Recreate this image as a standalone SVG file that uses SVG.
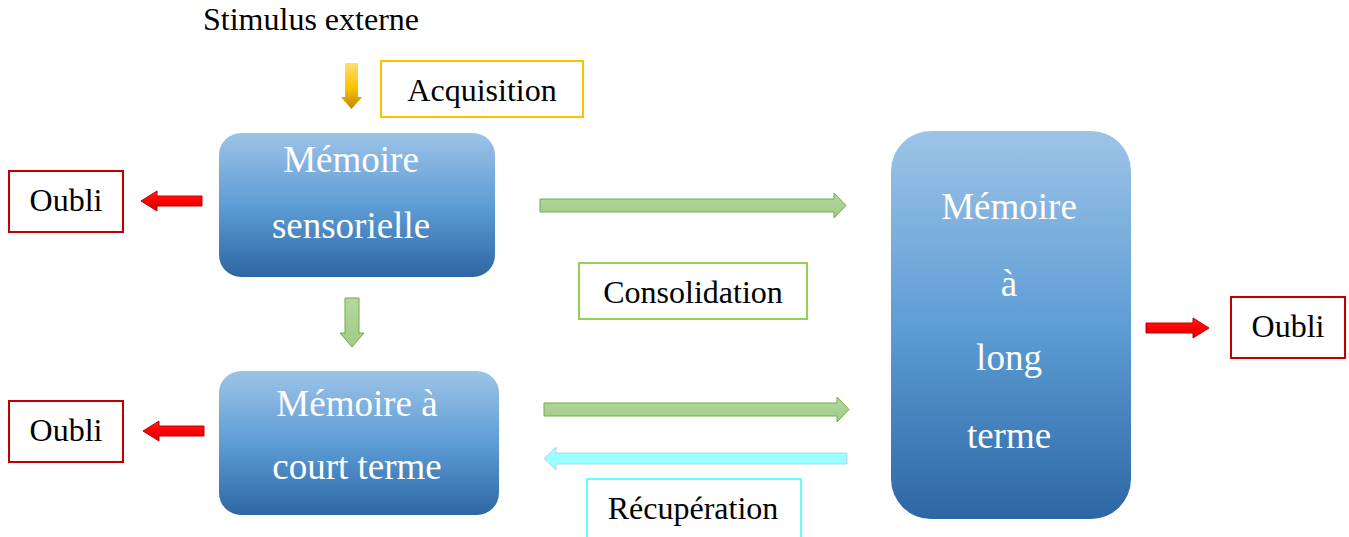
<svg xmlns="http://www.w3.org/2000/svg" width="1349" height="537" viewBox="0 0 1349 537">
<defs>
<linearGradient id="blue" x1="0" y1="0" x2="0" y2="1">
<stop offset="0" stop-color="#9DC3E6"/>
<stop offset="0.5" stop-color="#5E9DD6"/>
<stop offset="1" stop-color="#2D67A3"/>
</linearGradient>
<linearGradient id="gold" x1="0" y1="0" x2="0" y2="1">
<stop offset="0" stop-color="#FFE06B"/>
<stop offset="0.55" stop-color="#FFC000"/>
<stop offset="1" stop-color="#B88A00"/>
</linearGradient>
<linearGradient id="red" x1="0" y1="0" x2="0" y2="1">
<stop offset="0" stop-color="#FF2020"/>
<stop offset="0.5" stop-color="#FF0000"/>
<stop offset="1" stop-color="#D00000"/>
</linearGradient>
<linearGradient id="green" x1="0" y1="0" x2="0" y2="1">
<stop offset="0" stop-color="#B5D8A0"/>
<stop offset="1" stop-color="#A0CB85"/>
</linearGradient>
</defs>
<style>
text{font-family:'Liberation Serif','Tinos','DejaVu Serif','Times New Roman',serif}
.blk{font-size:32px;fill:#000;text-anchor:middle}
.wht{font-size:37px;fill:#fff;text-anchor:middle}
.mem{fill:url(#blue)}
.lbl{fill:#fff;stroke-width:2}
.oubli{stroke:#C00000}
.rarr{fill:url(#red);stroke:#C00000;stroke-width:1}
.garr{fill:url(#green);stroke:#70AD47;stroke-width:1}
</style>
<text class="blk" x="311" y="30" font-family="Liberation Serif, serif">Stimulus externe</text>
<g id="acquisition">
<rect class="lbl" x="381" y="61" width="202" height="56" stroke="#FFC000"/>
<text class="blk" x="482" y="101">Acquisition</text>
</g>
<g id="memoire-sensorielle">
<rect class="mem" x="219" y="133" width="276" height="144" rx="22"/>
<text class="wht" x="351" y="172">Mémoire</text>
<text class="wht" x="351" y="238">sensorielle</text>
</g>
<g id="memoire-court-terme">
<rect class="mem" x="219" y="371" width="280" height="144" rx="22"/>
<text class="wht" x="357" y="416">Mémoire à</text>
<text class="wht" x="357" y="479">court terme</text>
</g>
<g id="memoire-long-terme">
<rect class="mem" x="891" y="131" width="240" height="388" rx="40"/>
<text class="wht" x="1009" y="219">Mémoire</text>
<text class="wht" x="1009" y="296">à</text>
<text class="wht" x="1009" y="370">long</text>
<text class="wht" x="1009" y="448">terme</text>
</g>
<g id="oubli-1">
<rect class="lbl oubli" x="9" y="171" width="114" height="61"/>
<text class="blk" x="66" y="211">Oubli</text>
</g>
<g id="oubli-2">
<rect class="lbl oubli" x="9" y="401" width="114" height="61"/>
<text class="blk" x="66" y="441">Oubli</text>
</g>
<g id="oubli-3">
<rect class="lbl oubli" x="1231" y="297" width="114" height="61"/>
<text class="blk" x="1288" y="337">Oubli</text>
</g>
<g id="consolidation">
<rect class="lbl" x="579" y="263" width="228" height="56" stroke="#92D050"/>
<text class="blk" x="693" y="303">Consolidation</text>
</g>
<g id="recuperation">
<rect class="lbl" x="587" y="479" width="214" height="62" stroke="#66FFFF"/>
<text class="blk" x="693" y="519">Récupération</text>
</g>
<g id="connectors">
<path d="M345,63 H358 V97 H362 L351.5,109 L341,97 H345 Z" fill="url(#gold)"/>
<path class="rarr" d="M202,196 H157 V191 L141,201 L157,211 V206 H202 Z"/>
<path class="rarr" d="M204,426 H159 V421 L143,431 L159,441 V436 H204 Z"/>
<path class="rarr" d="M1146,323 H1193 V318 L1209,328 L1193,338 V333 H1146 Z"/>
<path class="garr" d="M540,199 H834 V193 L846,205.5 L834,218 V212 H540 Z"/>
<path class="garr" d="M544,403 H837 V397 L849,409.5 L837,422 V416 H544 Z"/>
<path class="garr" d="M345,298 H359 V333 H364 L352,347 L340,333 H345 Z"/>
<path d="M847,453 H556 V447 L544,458.5 L556,470 V464 H847 Z" fill="#99FFFF" stroke="#B4D4EE" stroke-width="1"/>
</g>
</svg>
